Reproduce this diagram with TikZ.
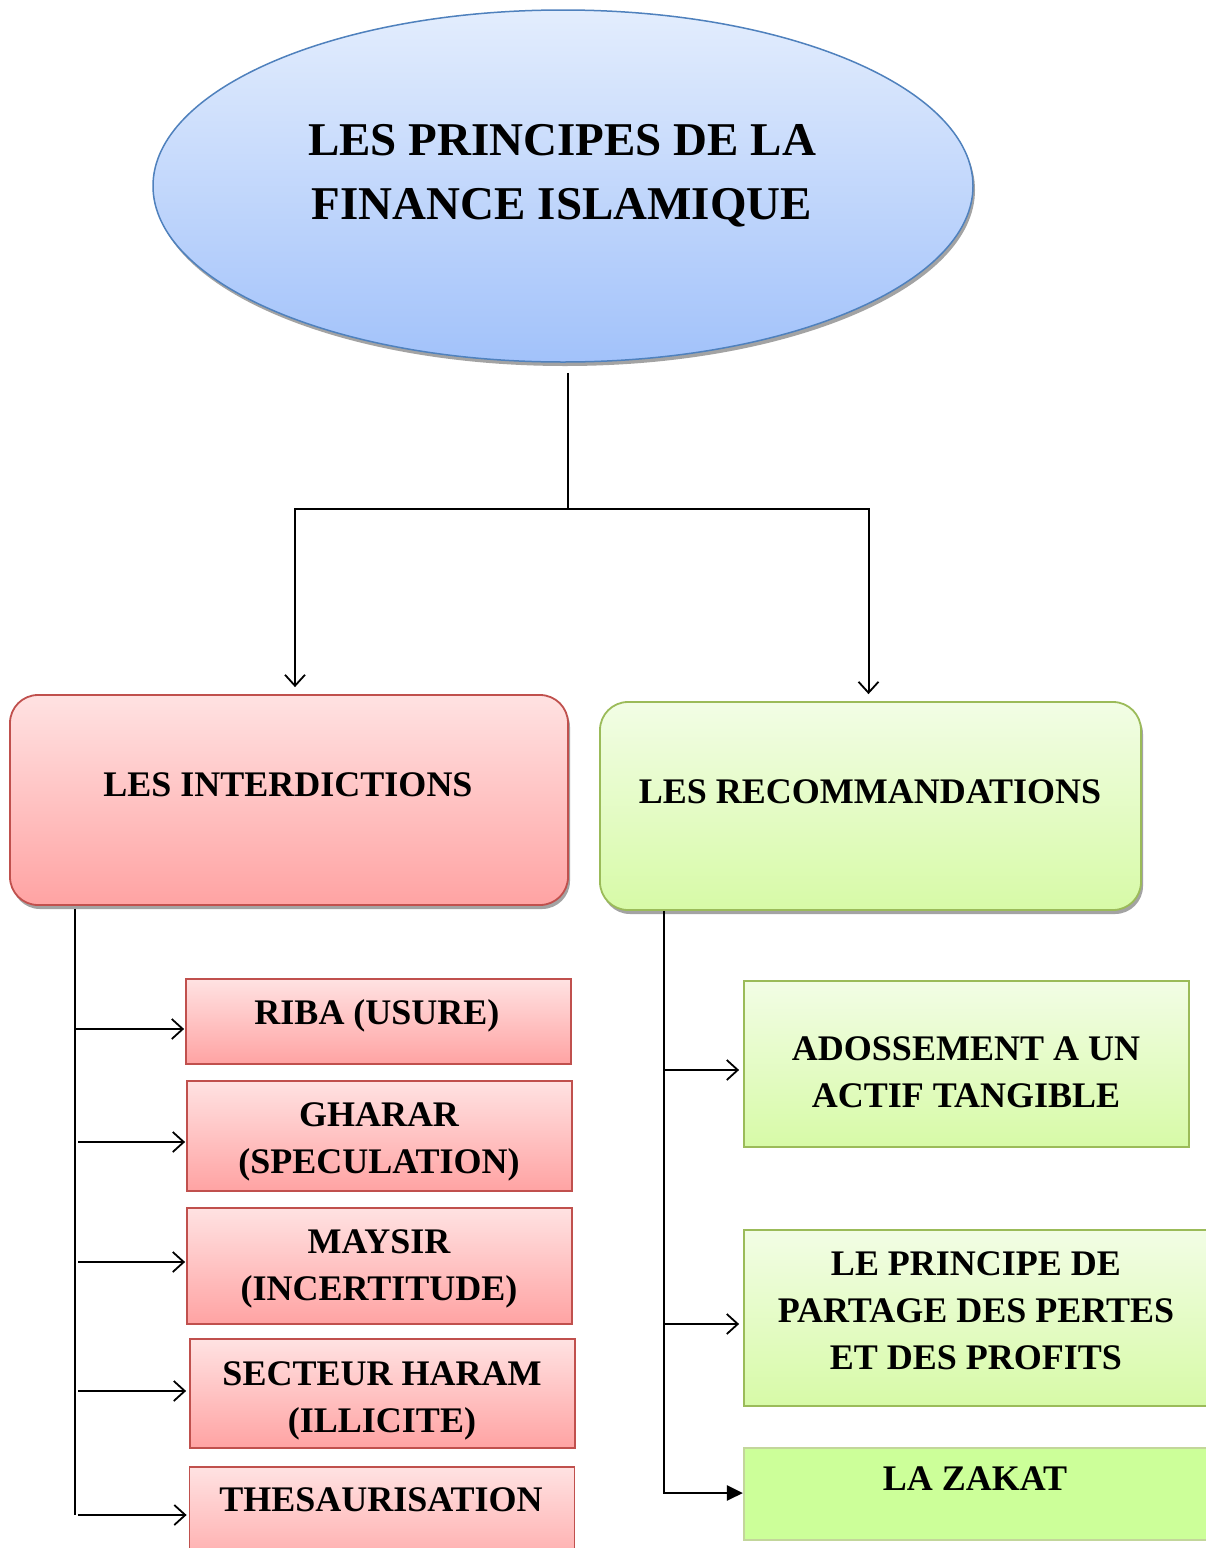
\documentclass[tikz,border=0pt]{standalone}
\usepackage{fontspec}
\setmainfont{Liberation Serif}
\usetikzlibrary{arrows.meta,shapes.geometric,shadows,calc}

\definecolor{bluetop}{HTML}{E3EDFD}
\definecolor{bluebot}{HTML}{A2C2FA}
\definecolor{blueline}{HTML}{4F81BD}
\definecolor{redtop}{HTML}{FFE2E2}
\definecolor{redbot}{HTML}{FFA3A3}
\definecolor{redline}{HTML}{C0504D}
\definecolor{greentop}{HTML}{F2FDE5}
\definecolor{greenbot}{HTML}{D7FAA7}
\definecolor{greenline}{HTML}{9BBB59}
\definecolor{zakatfill}{HTML}{CCFF99}
\definecolor{zakatline}{HTML}{C3D69B}

\tikzset{
  shade3d/.style={drop shadow={shadow xshift=2pt, shadow yshift=-4pt, fill=black!45, opacity=0.8}},
  titleshape/.style={ellipse, draw=blueline, line width=1.5pt, top color=bluetop, bottom color=bluebot,
    inner sep=0pt, minimum width=820pt, minimum height=352pt, shade3d},
  redmain/.style={rectangle, rounded corners=28pt, draw=redline, line width=1.8pt,
    top color=redtop, bottom color=redbot, inner sep=0pt, shade3d},
  greenmain/.style={rectangle, rounded corners=28pt, draw=greenline, line width=1.8pt,
    top color=greentop, bottom color=greenbot, inner sep=0pt, shade3d},
  redbox/.style={rectangle, draw=redline, line width=1.8pt, top color=redtop, bottom color=redbot,
    inner sep=0pt, minimum width=385pt},
  greenbox/.style={rectangle, draw=greenline, line width=1.8pt, top color=greentop, bottom color=greenbot,
    inner sep=0pt},
  zakatbox/.style={rectangle, draw=zakatline, line width=2.2pt, fill=zakatfill, inner sep=0pt},
  lbl/.style={align=center, anchor=base, inner sep=0pt,
    font=\fontsize{36}{47}\selectfont\bfseries},
  titlelbl/.style={align=center, anchor=base, inner sep=0pt,
    font=\fontsize{47}{64}\selectfont\bfseries},
  conn/.style={line width=2pt, black},
  openarrow/.style={conn, -{Straight Barb[length=11pt, width=20pt, line width=1.8pt]}},
  fullarrow/.style={conn, line width=2.5pt, -{Triangle[length=16pt, width=15pt]}},
}

\begin{document}
\begin{tikzpicture}[x=1pt, y=-1pt]
  \clip (0,0) rectangle (1206,1548);
  \fill[white] (0,0) rectangle (1206,1548);

  % title
  \node[titleshape] (title) at (563,186) {};
  \node[titlelbl] (titletxt) at (562,219) {LES PRINCIPES DE LA\\FINANCE ISLAMIQUE};

  % two main branches
  \node[redmain, minimum width=558pt, minimum height=210pt] (interd) at (289,800) {};
  \node[lbl] (interdtxt) at (288,796) {LES INTERDICTIONS};
  \node[greenmain, minimum width=541pt, minimum height=208pt] (recomm) at (870.5,806) {};
  \node[lbl] (recommtxt) at (870,803) {LES RECOMMANDATIONS};

  % prohibitions (label anchors sit on the last line's baseline)
  \node[redbox, minimum height=85pt] (riba) at (378.5,1021.5) {};
  \node[lbl] at (377,1024) {RIBA (USURE)};
  \node[redbox, minimum height=110pt] (gharar) at (379.5,1136) {};
  \node[lbl] at (379,1173) {GHARAR\\(SPECULATION)};
  \node[redbox, minimum height=116pt] (maysir) at (379.5,1266) {};
  \node[lbl] at (379,1300) {MAYSIR\\(INCERTITUDE)};
  \node[redbox, minimum height=109pt] (haram) at (382.5,1393.5) {};
  \node[lbl] at (382,1432) {SECTEUR HARAM\\(ILLICITE)};
  \node[redbox, minimum height=113pt] (thes) at (382,1523.5) {};
  \node[lbl] at (381,1511) {THESAURISATION};

  % recommendations
  \node[greenbox, minimum width=445pt, minimum height=166pt] (adoss) at (966.5,1064) {};
  \node[lbl] at (966,1107) {ADOSSEMENT A UN\\ACTIF TANGIBLE};
  \node[greenbox, minimum width=464pt, minimum height=176pt] (partage) at (976,1318) {};
  \node[lbl] at (976,1369) {LE PRINCIPE DE\\PARTAGE DES PERTES\\ET DES PROFITS};
  \node[zakatbox, minimum width=464pt, minimum height=92pt] (zakat) at (976,1494) {};
  \node[lbl] at (975,1490) {LA ZAKAT};

  % connectors from the title
  \coordinate (split) at (568,509);
  \draw[conn] ([yshift=-10pt]title.south -| split) -- (split);
  \draw[openarrow, shorten >=7pt] (split) -| ([xshift=6pt]interd.north);
  \draw[openarrow, shorten >=7pt] (split) -| ([xshift=-2pt]recomm.north);

  % left trunk
  \coordinate (lx) at (75,0);
  \draw[conn] ([yshift=-3pt]interd.south -| lx) -- (lx |- 0,1515);
  \draw[openarrow, shorten >=1pt] (lx |- 0,1029) -- (riba.west |- 0,1029);
  \draw[openarrow, shorten >=1pt] ($(lx |- 0,1142)+(3,0)$) -- (gharar.west |- 0,1142);
  \draw[openarrow, shorten >=1pt] ($(lx |- 0,1262)+(3,0)$) -- (maysir.west |- 0,1262);
  \draw[openarrow, shorten >=3pt] ($(lx |- 0,1391)+(3,0)$) -- (haram.west |- 0,1391);
  \draw[openarrow, shorten >=2pt] ($(lx |- 0,1515)+(3,0)$) -- (thes.west |- 0,1515);

  % right trunk
  \coordinate (rx) at (664,0);
  \draw[openarrow, shorten >=4pt] (rx |- 0,1070) -- (adoss.west |- 0,1070);
  \draw[openarrow, shorten >=4pt] (rx |- 0,1324) -- (partage.west |- 0,1324);
  \draw[fullarrow] (recomm.south -| rx) |- (zakat.west |- 0,1493);
\end{tikzpicture}
\end{document}
